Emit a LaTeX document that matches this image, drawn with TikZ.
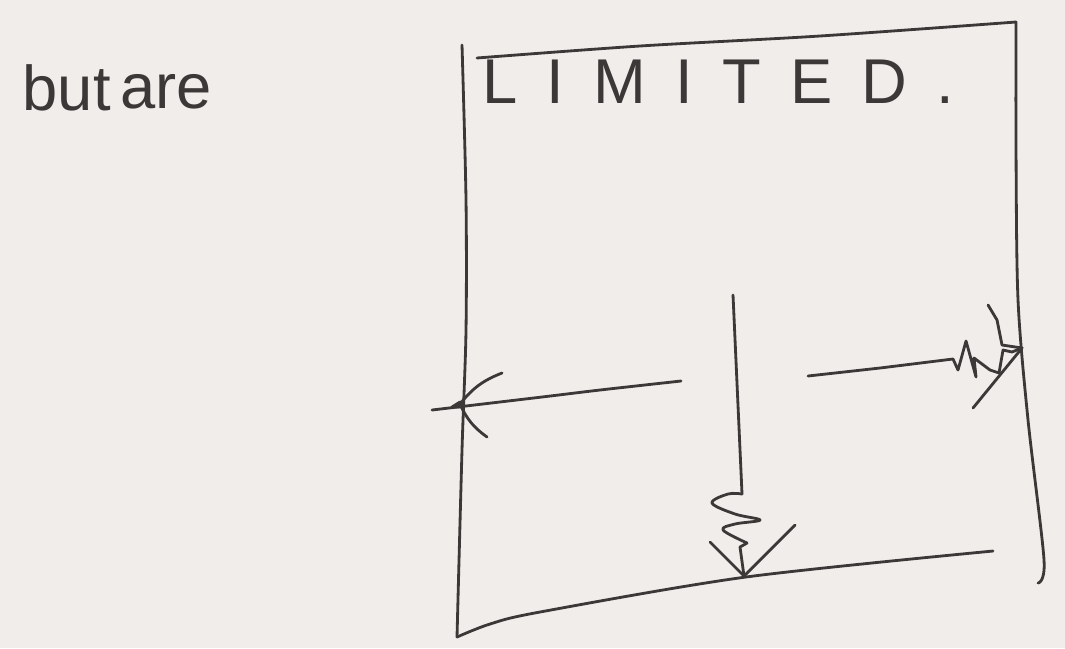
\documentclass[tikz,border=0pt]{standalone}
\usepackage{fontspec}
\setmainfont{Liberation Sans}
\definecolor{paper}{HTML}{F1EDEB}
\definecolor{ink}{HTML}{3C3838}
\tikzset{
  pen/.style={draw=ink, line width=0.8pt, line cap=round, line join=round},
  word/.style={anchor=base west, inner sep=0pt, text=ink, font=\fontsize{18}{20}\selectfont}
}

\begin{document}
\begin{tikzpicture}[x=0.01cm,y=-0.01cm]
  % paper
  \fill[paper] (0,0) rectangle (1065,648);

  % words
  \node[word] (but) at (22,110) {but};
  \node[word] (are) at (120,108) {are};
  \node[word, font=\fontsize{18}{20}\selectfont\addfontfeature{LetterSpace=46}] (limited) at (482,103) {LIMITED.};

  % draw box
  \draw[pen] plot[smooth, tension=0.5] coordinates {(462,45) (466,200) (466,330) (462,450) (457,637)};
  \draw[pen] plot[smooth, tension=0.5] coordinates {(457,637) (490,624) (540,612) (746,577) (993,551)};
  \draw[pen] plot[smooth, tension=0.5] coordinates {(1016,22) (1016,150) (1018,300) (1028,420) (1044,560) (1038,583)};
  \draw[pen] plot[smooth, tension=0.5] coordinates {(477,58) (640,46) (820,36) (1016,22)};

  % arrow down
  \coordinate (dstart) at (733,295);
  \coordinate (dtip) at (744,576);
  \draw[pen] (dstart) -- (742,494);
  \draw[pen] plot[smooth, tension=0.6] coordinates {(742,494) (728,494) (712,503) (735,514) (760,520)
    (735,524) (723,530) (747,543)};
  \draw[pen] (747,543) -- (740,547) -- (dtip);
  \draw[pen] (710,542) -- (dtip) -- (795,525);

  % arrow left
  \coordinate (lstart) at (681,381);
  \coordinate (ltip) at (432,410);
  \draw[pen] plot[smooth, tension=0.5] coordinates {(681,381) (600,390) (542,397) (432,410)};
  \draw[pen] (502,373) to[bend right=15] (460,404) to[bend right=15] (487,437);
  \draw[pen, fill=ink] (460,402) -- (452,407) -- (461,407) -- cycle;

  % arrow right
  \coordinate (rstart) at (808,376);
  \coordinate (rtip) at (1022,348);
  \draw[pen] (rstart) -- (880,368) -- (953,359) -- (958,370) -- (966,341) -- (976,377)
    -- (974,358) -- (990,370) -- (999,373) -- (1003,350) -- (1012,352) -- (rtip);
  \draw[pen] (988,305) -- (997,320) -- (1002,345) -- (rtip) -- (973,408);
\end{tikzpicture}
\end{document}
